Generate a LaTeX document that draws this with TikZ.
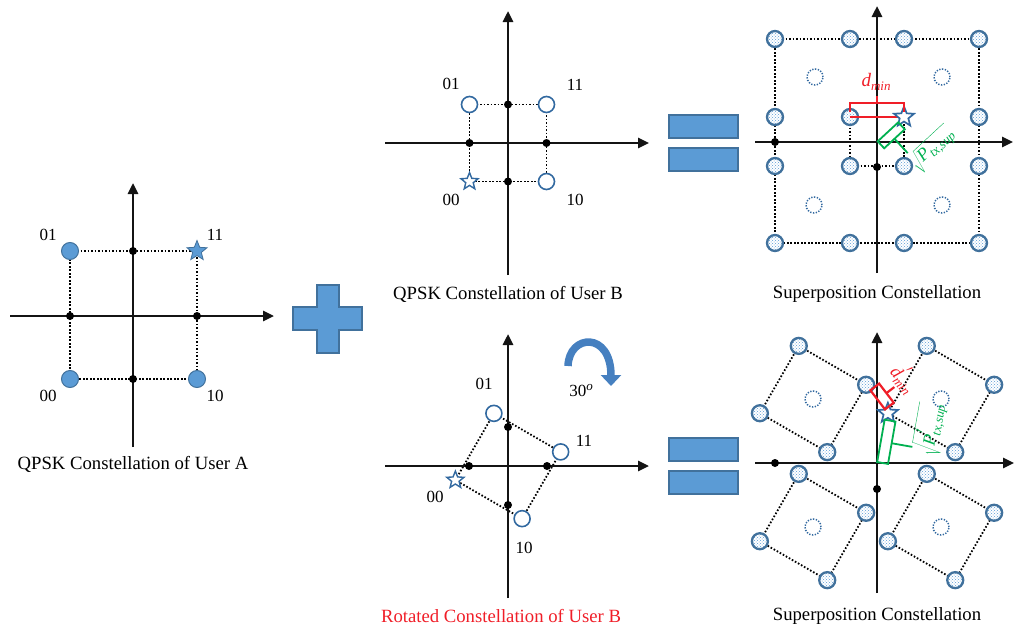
\RequirePackage{fix-cm}
\documentclass[tikz,border=0pt]{standalone}
\usepackage{fontspec}
\setmainfont{Liberation Serif}
\usetikzlibrary{arrows.meta,shapes.geometric,patterns,calc}
\definecolor{pblue}{RGB}{91,155,213}
\definecolor{dblue}{RGB}{65,113,156}
\definecolor{cblue}{RGB}{50,105,160}
\definecolor{pgreen}{RGB}{0,176,80}
\definecolor{pred}{RGB}{240,30,40}
\definecolor{rotblue}{RGB}{70,128,192}
\tikzset{
  axline/.style={line width=2.6pt, black!92, -{Triangle[length=11pt,width=10pt]}},
  dotline/.style={line width=1.8pt, black, dash pattern=on 1.6pt off 1.9pt},
  bdot/.style={circle, fill=black, inner sep=0pt, minimum size=8pt},
  ptA/.style={circle, fill=pblue, draw=dblue, line width=1pt, inner sep=0pt, minimum size=17pt},
  ptB/.style={circle, fill=white, draw=cblue, line width=1.6pt, inner sep=0pt, minimum size=16pt},
  ptS/.style={circle, draw=dblue, line width=2.3pt, inner sep=0pt, minimum size=16pt, preaction={fill=white}, pattern=crosshatch dots, pattern color=pblue},
  ptC/.style={circle, draw=cblue, line width=1.5pt, dash pattern=on 1.3pt off 1.5pt, inner sep=0pt, minimum size=16pt},
  starA/.style={star, star points=5, star point ratio=2.3, fill=pblue, draw=dblue, line width=0.8pt, inner sep=0pt, minimum size=21pt},
  starB/.style={star, star points=5, star point ratio=2.3, fill=white, draw=cblue, line width=1.4pt, inner sep=0pt, minimum size=18pt},
  lbl/.style={font=\fontsize{17}{17}\selectfont, inner sep=0pt},
  captxt/.style={font=\fontsize{18.7}{20}\selectfont, inner sep=0pt},
  signbox/.style={fill=pblue, draw=dblue, line width=1.5pt},
  redbr/.style={pred, line width=2.2pt},
  grnbr/.style={pgreen, line width=1.8pt},
}
\newcommand{\subsz}[1]{\raisebox{-4pt}{\fontsize{13}{13}\selectfont\itshape #1}}
\begin{document}
\begin{tikzpicture}[x=1pt,y=-1pt]
\useasboundingbox (0,0) rectangle (1014,629);

% ===== Panel A =====
\coordinate (AxL) at (10,316); \coordinate (AxR) at (274,316);
\coordinate (AyB) at (133,447); \coordinate (AyT) at (133,183);
\coordinate (A01) at (70,251); \coordinate (A11) at (197,251);
\coordinate (A00) at (70,379); \coordinate (A10) at (197,379);
\draw[dotline] (A01) -- (A11) -- (A10) -- (A00) -- cycle;
\draw[axline] (AxL) -- (AxR);
\draw[axline] (AyB) -- (AyT);
\foreach \x/\y/\n in {133/251/ad1, 70/316/ad2, 197/316/ad3, 133/379/ad4}
  \node[bdot] (\n) at (\x,\y) {};
\node[ptA] (nA01) at (A01) {};
\node[ptA] (nA00) at (A00) {};
\node[ptA] (nA10) at (A10) {};
\node[starA] (nA11) at (A11) {};
\node[lbl] (lA01) at (48,235) {01};
\node[lbl] (lA11) at (215,235) {11};
\node[lbl] (lA00) at (48,396) {00};
\node[lbl] (lA10) at (215,396) {10};
\node[captxt] (capA) at (133,464) {QPSK Constellation of User A};

% ===== Plus =====
\draw[signbox] (317,285) -- (339,285) -- (339,307) -- (362,307) -- (362,330) -- (339,330)
  -- (339,353) -- (317,353) -- (317,330) -- (293,330) -- (293,307) -- (317,307) -- cycle;

% ===== Panel B (top) =====
\coordinate (BxL) at (385,143); \coordinate (BxR) at (649,143);
\coordinate (ByB) at (508,275); \coordinate (ByT) at (508,11);
\coordinate (B01) at (469.5,104.5); \coordinate (B11) at (546.5,104.5);
\coordinate (B00) at (469.5,181.5); \coordinate (B10) at (546.5,181.5);
\draw[dotline] (B01) -- (B11) -- (B10) -- (B00) -- cycle;
\draw[axline] (BxL) -- (BxR);
\draw[axline] (ByB) -- (ByT);
\foreach \x/\y/\n in {508/104.5/bd1, 469.5/143/bd2, 546.5/143/bd3, 508/181.5/bd4}
  \node[bdot] (\n) at (\x,\y) {};
\node[ptB] (nB01) at (B01) {};
\node[ptB] (nB11) at (B11) {};
\node[ptB] (nB10) at (B10) {};
\node[starB] (nB00) at (B00) {};
\node[lbl] (lB01) at (451,84) {01};
\node[lbl] (lB11) at (575,85) {11};
\node[lbl] (lB00) at (451,200) {00};
\node[lbl] (lB10) at (575,200) {10};
\node[captxt] (capB) at (508,294) {QPSK Constellation of User B};

% ===== Equal signs =====
\draw[signbox] (669,115) rectangle (738,138);
\draw[signbox] (669,148) rectangle (738,171);
\draw[signbox] (669,438) rectangle (738,461);
\draw[signbox] (669,471) rectangle (738,494);

% ===== Panel B rotated =====
\coordinate (RO) at (508,466);
\coordinate (RxL) at (385,466); \coordinate (RxR) at (649,466);
\coordinate (RyB) at (508,598); \coordinate (RyT) at (508,334);
\path (RO) ++(105:54.5pt) coordinate (R01);
\path (RO) ++(15:54.5pt) coordinate (R11);
\path (RO) ++(195:54.5pt) coordinate (R00);
\path (RO) ++(285:54.5pt) coordinate (R10);
\draw[dotline] (R01) -- (R11) -- (R10) -- (R00) -- cycle;
\draw[axline] (RxL) -- (RxR);
\draw[axline] (RyB) -- (RyT);
\foreach \x/\y/\n in {508/427/rd1, 469/466/rd2, 547/466/rd3, 508/505/rd4}
  \node[bdot] (\n) at (\x,\y) {};
\node[ptB] (nR01) at (R01) {};
\node[ptB] (nR11) at (R11) {};
\node[ptB] (nR10) at (R10) {};
\node[starB] (nR00) at (R00) {};
\node[lbl] (lR01) at (484,384) {01};
\node[lbl] (lR11) at (584,441) {11};
\node[lbl] (lR00) at (435,497) {00};
\node[lbl] (lR10) at (524,548) {10};
\coordinate (ar0) at (568,366);
\coordinate (ar1) at (569,334);
\coordinate (ar2) at (611,331);
\coordinate (ar3) at (611,386);
\draw[rotblue, line width=7.5pt, -{Triangle[length=11pt,width=20pt]}] (ar0) .. controls (ar1) and (ar2) .. (ar3);
\node[lbl] (l30) at (581,391) {30\raisebox{6pt}{\fontsize{13}{13}\selectfont\itshape o}};
\node[captxt, text=pred] (capR) at (501,616) {Rotated Constellation of User B};

% ===== Superposition (top) =====
\coordinate (SO) at (877,142);
\coordinate (SxL) at (755,142); \coordinate (SxR) at (1013,142);
\coordinate (SyB) at (877,273); \coordinate (SyT) at (877,6);
\foreach \x/\i in {775/1,850/2,904/3,979/4}
  \foreach \y/\j in {39/1,117/2,166/3,243/4}
    \coordinate (c\i\j) at (\x,\y);
\draw[dotline] (c11) -- (c41) -- (c44) -- (c14) -- cycle;
\draw[dotline] (c22) -- (c23) -- (c33) -- (c32) -- cycle;
\draw[axline] (SxL) -- (SxR);
\draw[axline] (SyB) -- (SyT);
\node[bdot] (sd1) at (775,142) {};
\node[bdot] (sd2) at (877,167) {};
\foreach \x/\y/\n in {815/77/sc1, 942/77/sc2, 814/205/sc3, 942/205/sc4}
  \node[ptC] (\n) at (\x,\y) {};
\foreach \n in {11,21,31,41,12,22,42,13,23,33,43,14,24,34,44}
  \node[ptS] (s\n) at (c\n) {};
\draw[redbr] (c22) -- (c32);
\node[starB, line width=1.7pt, minimum size=21pt] (sstar) at (c32) {};
\draw[redbr] (850,112) -- (850,103) -- (904,103) -- (904,112);
\draw[redbr] (877,103) -- (877,96);
\node[font=\fontsize{19}{19}\selectfont\itshape, text=pred, inner sep=0pt] (dmin) at (876,82) {d\subsz{min}};
\begin{scope}[shift={(SO)}, rotate=42.8, y=1pt]
  \draw[grnbr] (1,0) rectangle (29,-9.5);
  \draw[grnbr] (15,-9.5) -- (15,-29);
  \node[rotate=42.8, text=pgreen, font=\fontsize{18}{18}\selectfont, inner sep=0pt] (psup) at (36,-43) {$\sqrt{\mbox{\itshape P\subsz{tx,sup}}}$};
\end{scope}
\node[captxt] (capS1) at (877,294) {Superposition Constellation};

% ===== Superposition (bottom) =====
\coordinate (TO) at (877,463);
\coordinate (TxL) at (755,463); \coordinate (TxR) at (1014,463);
\coordinate (TyB) at (877,593); \coordinate (TyT) at (877,332);
\coordinate (Q1) at (941,399); \coordinate (Q2) at (813,399);
\coordinate (Q3) at (813,527); \coordinate (Q4) at (941,527);
\foreach \q in {1,2,3,4}{
  \foreach \a in {15,105,195,285}
    \path (Q\q) ++(\a:55pt) coordinate (Q\q-\a);
  \draw[dotline] (Q\q-15) -- (Q\q-105) -- (Q\q-195) -- (Q\q-285) -- cycle;
}
\draw[axline] (TxL) -- (TxR);
\draw[axline] (TyB) -- (TyT);
\node[bdot] (td1) at (775,463) {};
\node[bdot] (td2) at (877,489) {};
\foreach \q in {1,2,3,4}
  \node[ptC] (tc\q) at (Q\q) {};
\foreach \n in {1-15,1-105,1-285,2-15,2-105,2-195,2-285,3-15,3-105,3-195,3-285,4-15,4-105,4-195,4-285}
  \node[ptS] (t\n) at (Q\n) {};
\node[starB, line width=1.7pt, minimum size=21pt] (tstar) at (Q1-195) {};
\begin{scope}[shift={(Q2-15)}, rotate=-52.5, y=1pt]
  \draw[redbr] (7,0) rectangle (31,11);
  \draw[redbr] (19,11) -- (19,21);
  \node[rotate=-50, text=pred, font=\fontsize{18}{18}\selectfont\itshape, inner sep=0pt] (dpmin) at (18,35) {d\rlap{\raisebox{7pt}{$'$}}\subsz{min}};
\end{scope}
\begin{scope}[shift={(TO)}, rotate=80, y=1pt]
  \draw[grnbr] (1,0) rectangle (44,-11);
  \draw[grnbr] (22,-11) -- (22,-32);
  \node[rotate=80, text=pgreen, font=\fontsize{18}{18}\selectfont, inner sep=0pt] (ppsup) at (42,-46) {$\sqrt{\mbox{\itshape P\rlap{\raisebox{7pt}{$'$}}\subsz{tx,sup}}}$};
\end{scope}
\node[captxt] (capS2) at (877,616) {Superposition Constellation};
\end{tikzpicture}
\end{document}
